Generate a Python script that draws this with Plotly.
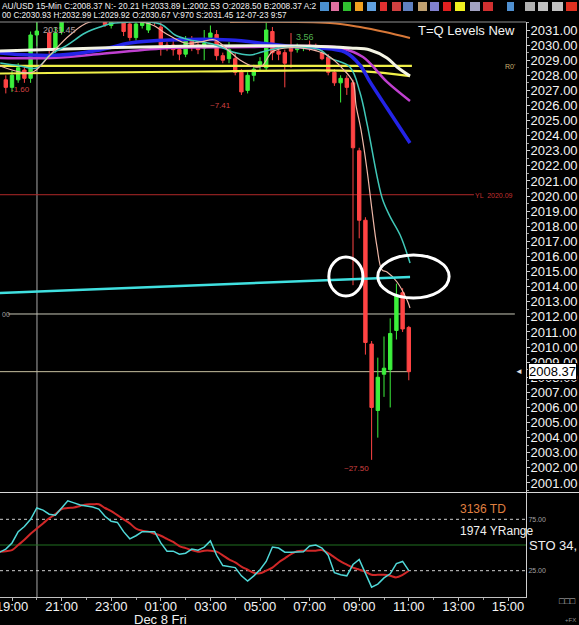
import plotly.graph_objects as go

W, H = 579, 625

# ---------------- data ----------------
bar_idx = list(range(-1, 65))
opens = [2027.7, 2027.2, 2027.7, 2028.35, 2027.8, 2030.67, 2031.9, 2030.8, 2029.7, 2030.9,
         2031.6, 2032.2, 2032.7, 2033.4, 2032.9, 2032.5, 2031.7, 2031.3, 2031.8, 2031.6,
         2031.4, 2030.5, 2031.3, 2031.0, 2031.9, 2031.2, 2030.0, 2030.0, 2029.7, 2029.4,
         2030.3, 2030.0, 2029.8, 2030.5, 2030.7, 2029.3, 2029.1, 2029.1, 2028.2, 2027.0,
         2028.0, 2028.7, 2028.5, 2030.9, 2029.6, 2029.5, 2029.9, 2029.7, 2029.8, 2030.0,
         2029.9, 2029.5, 2029.2, 2028.2, 2027.5, 2027.8, 2027.5, 2023.0, 2018.4, 2010.2,
         2005.8, 2008.2, 2008.5, 2011.1, 2013.6, 2011.3]
highs = [2028.0, 2028.3, 2028.8, 2028.6, 2030.9, 2032.99, 2032.3, 2031.0, 2031.2, 2032.0,
         2032.5, 2033.0, 2033.89, 2033.8, 2033.3, 2032.9, 2032.1, 2032.0, 2032.4, 2032.0,
         2031.6, 2031.6, 2031.9, 2031.9, 2032.2, 2031.5, 2030.2, 2030.5, 2030.0, 2030.6,
         2030.6, 2030.4, 2031.0, 2031.3, 2031.0, 2029.5, 2030.2, 2029.5, 2028.4, 2028.2,
         2028.7, 2029.2, 2031.5, 2031.2, 2030.0, 2029.7, 2030.8, 2030.1, 2030.0, 2030.3,
         2030.1, 2029.7, 2029.4, 2028.4, 2028.0, 2028.0, 2027.7, 2023.2, 2018.6, 2010.4,
         2009.3, 2010.7, 2011.9, 2014.2, 2013.9, 2011.4]
lows = [2026.8, 2026.9, 2027.5, 2027.5, 2027.5, 2029.92, 2031.5, 2029.3, 2029.5, 2030.7,
        2031.5, 2031.9, 2032.4, 2032.6, 2032.2, 2031.8, 2031.2, 2031.1, 2031.6, 2030.6,
        2030.3, 2030.3, 2031.1, 2030.8, 2031.3, 2029.3, 2029.6, 2029.3, 2029.0, 2029.2,
        2029.6, 2029.4, 2029.0, 2030.3, 2029.0, 2028.8, 2028.8, 2028.0, 2026.7, 2026.8,
        2027.6, 2028.3, 2028.3, 2029.0, 2029.0, 2027.2, 2028.5, 2029.5, 2029.6, 2029.6,
        2029.6, 2029.0, 2028.0, 2027.3, 2026.2, 2026.7, 2014.1, 2017.2, 2009.5, 2002.53,
        2004.0, 2006.7, 2006.0, 2010.5, 2011.0, 2007.8]
closes = [2027.2, 2028.0, 2028.5, 2027.8, 2030.67, 2030.93, 2031.6, 2029.7, 2030.8, 2031.6,
          2032.2, 2032.7, 2033.4, 2032.9, 2032.5, 2032.0, 2031.35, 2031.6, 2032.1, 2030.9,
          2030.5, 2031.4, 2031.6, 2031.6, 2031.5, 2030.0, 2029.85, 2029.7, 2029.4, 2030.3,
          2029.9, 2029.7, 2030.1, 2030.8, 2029.3, 2029.0, 2029.7, 2028.2, 2026.9, 2028.0,
          2028.4, 2028.9, 2031.0, 2029.5, 2029.4, 2028.8, 2029.6, 2029.9, 2029.95, 2029.8,
          2029.7, 2029.1, 2028.2, 2027.5, 2027.8, 2027.2, 2023.2, 2018.4, 2010.3, 2006.0,
          2008.0, 2008.6, 2010.9, 2013.4, 2011.2, 2008.37]

# moving-average style lines (bar index, price)
teal_x = [-1.9, 1.3, 4.0, 6.1, 8.9, 11.8, 14.2, 16.6, 23.9, 26.3, 28.7, 32.4, 35.6, 38.4, 40.3,
          43.2, 49.7, 51.3, 54.5, 56.1, 57.3, 58.9, 59.8, 61.0, 62.6, 64.2]
teal_y = [2028.81, 2028.62, 2028.48, 2029.34, 2030.0, 2030.8, 2031.2, 2031.46, 2031.4, 2030.67,
          2030.34, 2030.07, 2029.54, 2029.34, 2029.54, 2029.81, 2029.68, 2029.15, 2028.55,
          2026.89, 2024.71, 2021.26, 2019.74, 2018.62, 2017.42, 2015.57]
pink_x = [-1.94, 1.29, 3.39, 6.13, 9.35, 12.58, 22.26, 24.68, 27.9, 30.32, 32.74, 34.84, 36.77,
          39.19, 40.32, 41.94, 44.03, 46.45, 49.68, 51.29, 53.23, 55.0, 55.48, 56.29, 57.26,
          58.06, 58.87, 59.68, 60.48, 62.1, 63.71, 64.19]
pink_y = [2028.62, 2028.22, 2028.22, 2029.34, 2030.67, 2031.53, 2031.4, 2030.8, 2030.14, 2030.21,
          2030.34, 2029.68, 2029.01, 2028.55, 2028.62, 2029.54, 2029.81, 2029.81, 2029.54,
          2029.21, 2028.48, 2027.56, 2026.03, 2024.38, 2021.73, 2019.08, 2016.63, 2015.11,
          2014.97, 2014.31, 2013.12, 2012.59]
white_x = [-1.94, 14.19, 30.32, 46.45, 54.52, 57.74, 60.48, 62.1, 64.19]
white_y = [2029.61, 2029.81, 2029.94, 2029.94, 2029.81, 2029.68, 2029.15, 2028.55, 2027.95]
blue_x = [-1.94, 2.9, 7.74, 14.19, 19.03, 25.48, 35.16, 41.61, 46.45, 49.68, 53.71, 56.13,
          57.74, 60.48, 64.19]
blue_y = [2029.48, 2029.34, 2029.34, 2029.68, 2030.14, 2030.34, 2030.34, 2030.07, 2029.87,
          2029.81, 2029.54, 2028.68, 2027.56, 2025.83, 2023.52]
mag_x = [-1.94, 6.13, 14.19, 25.48, 38.39, 46.45, 52.9, 56.61, 60.48, 64.19]
mag_y = [2029.15, 2029.15, 2029.41, 2029.81, 2029.87, 2029.94, 2029.81, 2029.21, 2027.56, 2026.30]
orange_x = [35.16, 51.29, 56.13, 60.16, 64.19]
orange_y = [2031.53, 2031.46, 2031.2, 2030.87, 2030.47]
yellow1_x = [-1.94, 64.5]
yellow1_y = [2028.62, 2028.62]
yellow2_x = [-1.94, 30.3, 56.1, 64.2]
yellow2_y = [2028.12, 2028.25, 2028.28, 2027.95]
trend_x = [-1.94, 64.2]
trend_y = [2013.58, 2014.64]

# levels
yl_level = 2020.09
level_mid = 2012.19
last_close = 2008.37

# stochastic
sto_bars = list(range(-2, 65))
sto_k = [43, 46, 52, 63, 68, 75, 86, 84, 80, 79, 86, 93, 91, 89, 88, 87, 85, 78, 73, 72,
         63, 56, 59, 63, 63, 63, 52, 44, 44, 41, 42, 46, 45, 48, 54, 40, 30, 29, 28, 20,
         15, 20, 26, 34, 48, 47, 43, 43, 43, 43.5, 49, 50, 47, 40, 23, 21, 20, 31, 36, 22,
         9, 12, 18, 22, 32, 34, 25]
sto_d = [43.5, 44, 45, 50, 55, 61, 66, 71, 76, 80, 85, 86, 86.5, 88, 89.5, 89.6, 89.6, 86, 83, 79,
         75, 71, 66, 64, 63, 61, 59, 56, 53, 49, 47, 45, 43.5, 44.5, 44.5, 43.5, 40, 36, 33, 29,
         26, 23, 22.5, 25, 28, 33, 37, 41, 44, 44.5, 44.5, 44.5, 45, 42, 38, 34, 31, 28, 26, 24,
         21, 21, 21, 20, 18.5, 21, 25]

time_ticks = [0, 8, 16, 24, 32, 40, 48, 56, 64, 72, 80]
time_labels = ["19:00", "21:00", "23:00", "01:00", "03:00", "05:00", "07:00", "09:00",
               "11:00", "13:00", "15:00"]

# ellipse annotations: (bar0, bar1, price_low, price_high)
ellipses = [(51.1, 56.6, 2013.38, 2015.97), (59.0, 70.5, 2013.25, 2016.1)]

FONT = "Liberation Sans, Arial, sans-serif"


def px(x):
    return x / W


def py(y):
    return 1 - y / H


XR = [-1.935, 82.9]
XD = [0, px(526)]

fig = go.Figure()

fig.add_trace(go.Candlestick(
    x=bar_idx, open=opens, high=highs, low=lows, close=closes,
    increasing=dict(line=dict(color="#3cf03c", width=1), fillcolor="#3cf03c"),
    decreasing=dict(line=dict(color="#ff4444", width=1), fillcolor="#ff4444"),
    whiskerwidth=0, xaxis="x", yaxis="y", showlegend=False, hoverinfo="skip"))


def line(xs, ys, color, width, xa="x", ya="y", shape="spline"):
    fig.add_trace(go.Scatter(x=xs, y=ys, mode="lines", xaxis=xa, yaxis=ya,
                             line=dict(color=color, width=width, shape=shape),
                             showlegend=False, hoverinfo="skip"))


line(yellow1_x, yellow1_y, "#f0f048", 2.2, shape="linear")
line(yellow2_x, yellow2_y, "#f0f048", 2.2)
line(orange_x, orange_y, "#d87838", 2)
line(mag_x, mag_y, "#c040d0", 2.5)
line(blue_x, blue_y, "#2424e8", 3.5)
line(white_x, white_y, "#f4f4e4", 3)
line(teal_x, teal_y, "#40c8b8", 1.5)
line(pink_x, pink_y, "#f0b8a8", 1.2)
line(trend_x, trend_y, "#40e0e0", 2.5, shape="linear")

line(sto_bars, sto_d, "#d02828", 2, xa="x2", ya="y2")
line(sto_bars, sto_k, "#50d8d8", 1.5, xa="x2", ya="y2", shape="linear")

shapes = []
# horizontal levels in price pane
shapes.append(dict(type="line", xref="x", yref="y", x0=XR[0], x1=74.5, y0=yl_level, y1=yl_level,
                   line=dict(color="#b02828", width=1), layer="below"))
shapes.append(dict(type="line", xref="x", yref="y", x0=-0.6, x1=81.1, y0=level_mid, y1=level_mid,
                   line=dict(color="#c8c8b8", width=1), layer="below"))
shapes.append(dict(type="line", xref="x", yref="y", x0=XR[0], x1=64.0, y0=last_close, y1=last_close,
                   line=dict(color="#c8c0a0", width=1), layer="below"))
# crosshair vertical
shapes.append(dict(type="line", xref="x", yref="paper", x0=4.03, x1=4.03, y0=py(597), y1=py(22),
                   line=dict(color="#a8a8a8", width=1), layer="below"))
# pane borders
shapes.append(dict(type="line", xref="paper", yref="paper", x0=0, x1=px(526), y0=py(22), y1=py(22),
                   line=dict(color="#909090", width=1)))
shapes.append(dict(type="line", xref="paper", yref="paper", x0=0, x1=1, y0=py(492.5), y1=py(492.5),
                   line=dict(color="#d8d8d8", width=1)))
# stochastic guide lines
for lv in (75, 25):
    shapes.append(dict(type="line", xref="paper", yref="y2", x0=0, x1=px(526), y0=lv, y1=lv,
                       line=dict(color="#d0d0d0", width=1, dash="dot"), layer="below"))
shapes.append(dict(type="line", xref="paper", yref="y2", x0=0, x1=px(526), y0=50, y1=50,
                   line=dict(color="#207020", width=1), layer="below"))
# ellipses
for (b0, b1, p0, p1) in ellipses:
    shapes.append(dict(type="circle", xref="x", yref="y", x0=b0, x1=b1, y0=p0, y1=p1,
                       line=dict(color="white", width=3)))
# toolbar icons
icons = [(320, 329, "#4a90d0"), (331, 339, "#e070a0"), (343, 351, "#30c030"), (355, 363, "#f0a020"),
         (367, 376, "#60a0e0"), (380, 387, "#e03030"), (392, 401, "#d04040"), (403, 413, "#6080c0"),
         (418, 427, "#c0a070"), (430, 439, "#8080d0"), (443, 451, "#e02020"), (455, 465, "#f0f020"),
         (470, 480, "#a0a0c0"), (483, 493, "#d03030"), (507, 514, "#5090d0"), (525, 535, "#b0b0b0"),
         (538, 548, "#c0c0c0"), (552, 563, "#c0c0c0"), (566, 577, "#e03020")]
for (a, b, c) in icons:
    shapes.append(dict(type="rect", xref="paper", yref="paper", x0=px(a), x1=px(b), y0=py(11), y1=py(2),
                       line=dict(width=0), fillcolor=c))

ann = []


def text(x, y, s, color, size, xref="paper", yref="paper", xanchor="center", **kw):
    ann.append(dict(x=x, y=y, xref=xref, yref=yref, text=s, showarrow=False, xanchor=xanchor,
                    yanchor="middle", font=dict(color=color, size=size, family=FONT), **kw))


text(0, py(6), "AU/USD 15-Min C:2008.37 N:- 20.21 H:2033.89 L:2002.53 O:2028.50 B:2008.37 A:2",
     "#f0f0f0", 8.4, xanchor="left")
text(0, py(16), "00 C:2030.93 H:2032.99 L:2029.92 O:2030.67 V:970 S:2031.45 12-07-23 9:57",
     "#f0f0f0", 8.2, xanchor="left")
text(px(466), py(31), "T=Q Levels New", "#f4f4f4", 13)
text(7.7, 2031.0, "2031.45", "#b0a0a0", 9, xref="x", yref="y")
text(1.45, 2027.03, "-1.60", "#d04040", 8, xref="x", yref="y")
text(33.7, 2026.03, "~7.41", "#d04040", 8, xref="x", yref="y")
text(47.3, 2030.54, "3.56", "#50b050", 9, xref="x", yref="y")
text(55.6, 2001.93, "~27.50", "#d04040", 8, xref="x", yref="y")
text(77.7, 2020.03, "YL  2020.09", "#c03030", 7, xref="x", yref="y")
text(80.3, 2028.55, "R0'", "#c8b070", 7, xref="x", yref="y")
text(0, py(314), "00", "#a0a0a0", 7, xanchor="left")
text(px(519), last_close, "◄", "#e0e0e0", 8, yref="y")
text(px(528), last_close, "2008.37", "#000000", 13, yref="y", xanchor="left",
     bgcolor="#ffffff", bordercolor="#000000", borderwidth=1, borderpad=0)
text(px(458), py(509), "3136 TD", "#e08040", 12, xanchor="left")
text(px(458), py(531), "1974 YRange", "#f0f0f0", 12, xanchor="left")
text(px(527), py(545), "STO 34,", "#f0f0f0", 13, xanchor="left")
text(24, py(619), "Dec 8 Fri", "#f0f0f0", 13, xref="x2")
text(px(567), py(601), "□□□", "#c0c0c0", 9)
text(px(570), py(620), "+FX", "#909090", 6)

fig.update_layout(
    width=W, height=H, margin=dict(l=0, r=0, t=0, b=0, autoexpand=False),
    paper_bgcolor="#000000", plot_bgcolor="#000000",
    showlegend=False, boxgap=0.22, shapes=shapes, annotations=ann,
    xaxis=dict(domain=XD, range=XR, anchor="y", showticklabels=False, showgrid=False,
               zeroline=False, rangeslider=dict(visible=False), ticks="", automargin=False),
    yaxis=dict(domain=[py(492), py(22)], range=[2000.40, 2031.53], side="right", anchor="x",
               tickmode="linear", tick0=2001, dtick=1, tickformat=".2f", automargin=False,
               showgrid=False, zeroline=False, showline=True, linecolor="#d0d0d0", linewidth=1,
               ticks="outside", ticklen=3, tickcolor="#d0d0d0", ticklabelstandoff=-2,
               ticklabeloverflow="allow",
               minor=dict(ticks="outside", dtick=0.5, ticklen=2, tickcolor="#a0a0a0"),
               tickfont=dict(color="#f4f4f4", size=13, family=FONT)),
    xaxis2=dict(domain=XD, range=XR, anchor="y2", showgrid=False, zeroline=False, automargin=False,
                tickmode="array", tickvals=time_ticks, ticktext=time_labels,
                ticks="outside", ticklen=3, tickcolor="#c0c0c0", ticklabelstandoff=-6,
                ticklabeloverflow="allow",
                minor=dict(ticks="outside", dtick=4, tick0=0, ticklen=2, tickcolor="#a0a0a0"),
                showline=True, linecolor="#c0c0c0",
                tickfont=dict(color="#f4f4f4", size=13, family=FONT)),
    yaxis2=dict(domain=[py(597), py(493)], range=[-0.6, 100.6], side="right", anchor="x2",
                tickmode="array", tickvals=[25, 75], ticktext=["25.00", "75.00"], automargin=False,
                showgrid=False, zeroline=False, showline=True, linecolor="#d0d0d0",
                ticks="", tickfont=dict(color="#a0a0a0", size=7, family=FONT)),
)

fig.write_html("out.html", config={"displayModeBar": False},
               post_script="document.body.style.margin='0';document.body.style.padding='0';"
                           "document.body.style.background='#000';")
